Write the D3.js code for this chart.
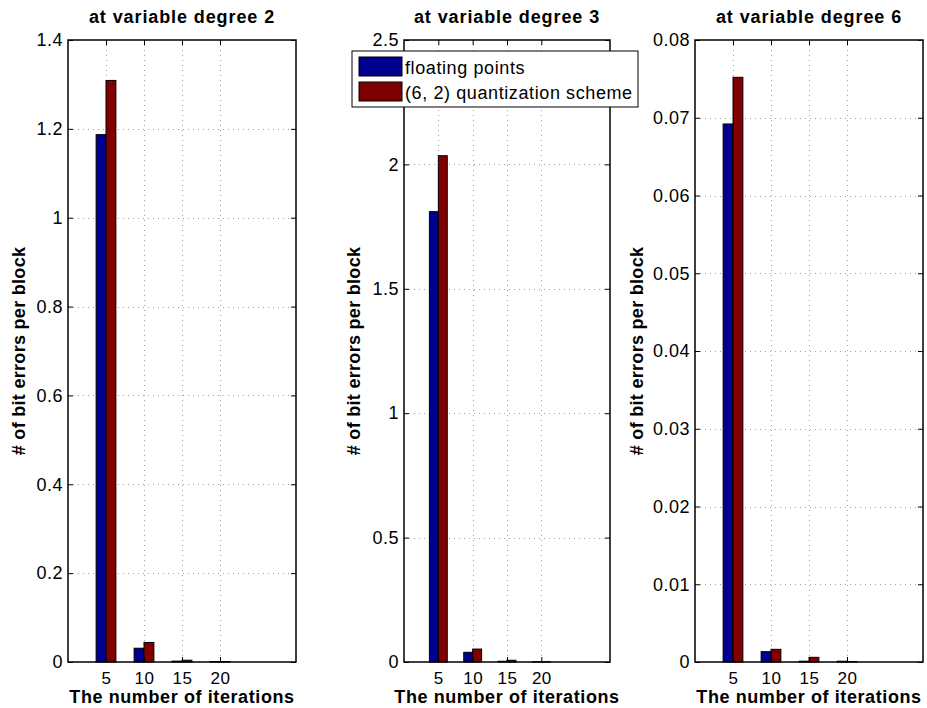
<!DOCTYPE html>
<html>
<head>
<meta charset="utf-8">
<script src="https://cdn.jsdelivr.net/npm/d3@7/dist/d3.min.js"></script>
<style>
  body { margin: 0; background: #fff; }
  text { font-family: "Liberation Sans", Arial, Helvetica, sans-serif; }
</style>
</head>
<body>
<svg id="chart" width="927" height="708"></svg>
<script>
// iterations on the x axis
var iterations = [5, 10, 15, 20];
var seriesNames = ["floating points", "(6, 2) quantization scheme"];
var colors = ["#00008f", "#800000"];

// values per panel
var deg2Float = [1.187, 0.031, 0.002, 0.001];
var deg2Quant = [1.309, 0.044, 0.004, 0.001];
var deg3Float = [1.81, 0.039, 0.003, 0.001];
var deg3Quant = [2.035, 0.052, 0.007, 0.001];
var deg6Float = [0.0692, 0.00133, 0.0001, 0.0001];
var deg6Quant = [0.0752, 0.00163, 0.0006, 0.00005];

var titles = ["at variable degree 2", "at variable degree 3", "at variable degree 6"];
var yMax = [1.4, 2.5, 0.08];
var yTicks = [
    [0, 0.2, 0.4, 0.6, 0.8, 1, 1.2, 1.4],
    [0, 0.5, 1, 1.5, 2, 2.5],
    [0, 0.01, 0.02, 0.03, 0.04, 0.05, 0.06, 0.07, 0.08]
];
var panelData = [[deg2Float, deg2Quant], [deg3Float, deg3Quant], [deg6Float, deg6Quant]];

var boxes = [
    {left: 68, right: 296},
    {left: 404, right: 610},
    {left: 695, right: 923}
];
var plotTop = 40, plotBottom = 662;

var svg = d3.select("#chart");

boxes.forEach(function(b, p) {
    var x = d3.scaleLinear().domain([0, 30]).range([b.left, b.right]);
    var y = d3.scaleLinear().domain([0, yMax[p]]).range([plotBottom, plotTop]);
    var g = svg.append("g");

    // grid
    g.selectAll(".gx").data(iterations).join("line")
        .attr("x1", d => Math.round(x(d)) + 0.5).attr("x2", d => Math.round(x(d)) + 0.5)
        .attr("y1", plotTop).attr("y2", plotBottom)
        .attr("stroke", "#a0a0a0").attr("stroke-width", 1)
        .attr("stroke-dasharray", "1,4");
    g.selectAll(".gy").data(yTicks[p].slice(1, -1)).join("line")
        .attr("x1", b.left).attr("x2", b.right)
        .attr("y1", d => Math.round(y(d)) + 0.5).attr("y2", d => Math.round(y(d)) + 0.5)
        .attr("stroke", "#a0a0a0").attr("stroke-width", 1)
        .attr("stroke-dasharray", "1,4");

    // bars: two per group
    var bw = 1.3;
    panelData[p].forEach(function(vals, s) {
        g.selectAll(".bar" + s).data(vals).join("rect")
            .attr("x", (d, i) => x(iterations[i] - bw + s * bw))
            .attr("width", x(bw) - x(0))
            .attr("y", d => y(d))
            .attr("height", d => plotBottom - y(d))
            .attr("fill", colors[s])
            .attr("stroke", "#000").attr("stroke-width", 1);
    });

    // axes (inward ticks on all sides)
    var xb = g.append("g").attr("transform", "translate(0," + plotBottom + ")")
        .call(d3.axisBottom(x).tickValues(iterations).tickSizeInner(-5).tickSizeOuter(0).tickPadding(10))
        .call(a => a.select(".domain").remove());
    g.append("g").attr("transform", "translate(0," + plotTop + ")")
        .call(d3.axisTop(x).tickValues(iterations).tickSizeInner(-5).tickSizeOuter(0).tickFormat(""))
        .call(a => a.select(".domain").remove());
    g.append("g").attr("transform", "translate(" + b.left + ",0)")
        .call(d3.axisLeft(y).tickValues(yTicks[p]).tickSizeInner(-5).tickSizeOuter(0).tickPadding(5).tickFormat(d3.format("~g")))
        .call(a => a.select(".domain").remove());
    g.append("g").attr("transform", "translate(" + b.right + ",0)")
        .call(d3.axisRight(y).tickValues(yTicks[p]).tickSizeInner(-5).tickSizeOuter(0).tickFormat(""))
        .call(a => a.select(".domain").remove());
    g.selectAll(".tick text").attr("font-size", 18).attr("fill", "#000")
        .attr("letter-spacing", "0.5px")
        .attr("font-family", "Liberation Sans, Arial, sans-serif");
    xb.selectAll(".tick text").attr("font-size", 17);
    g.selectAll(".tick line").attr("stroke", "#000");

    g.append("rect").attr("x", b.left).attr("y", plotTop)
        .attr("width", b.right - b.left).attr("height", plotBottom - plotTop)
        .attr("fill", "none").attr("stroke", "#000").attr("stroke-width", 1.5);

    // titles and labels
    g.append("text").attr("x", (b.left + b.right) / 2).attr("y", 23)
        .attr("text-anchor", "middle").attr("font-weight", "bold").attr("font-size", 18)
        .attr("letter-spacing", "0.9px")
        .text(titles[p]);
    g.append("text").attr("x", (b.left + b.right) / 2).attr("y", 703)
        .attr("text-anchor", "middle").attr("font-weight", "bold").attr("font-size", 18)
        .attr("letter-spacing", "0.6px")
        .text("The number of iterations");
    var yl = [25, 360, 643][p];
    g.append("text").attr("transform", "translate(" + yl + "," + ((plotTop + plotBottom) / 2) + ") rotate(-90)")
        .attr("text-anchor", "middle").attr("font-weight", "bold").attr("font-size", 18)
        .attr("letter-spacing", "0.3px")
        .text("# of bit errors per block");
});

// legend in the middle panel
var leg = svg.append("g");
leg.append("rect").attr("x", 352).attr("y", 51).attr("width", 286).attr("height", 56)
    .attr("fill", "#fff").attr("stroke", "#000").attr("stroke-width", 1);
seriesNames.forEach(function(n, i) {
    leg.append("rect").attr("x", 359).attr("y", 57 + i * 25).attr("width", 43).attr("height", 19)
        .attr("fill", colors[i]).attr("stroke", "#000");
    leg.append("text").attr("x", 405).attr("y", 74 + i * 25)
        .attr("font-size", 18).attr("letter-spacing", "0.6px").text(n);
});
</script>
</body>
</html>
